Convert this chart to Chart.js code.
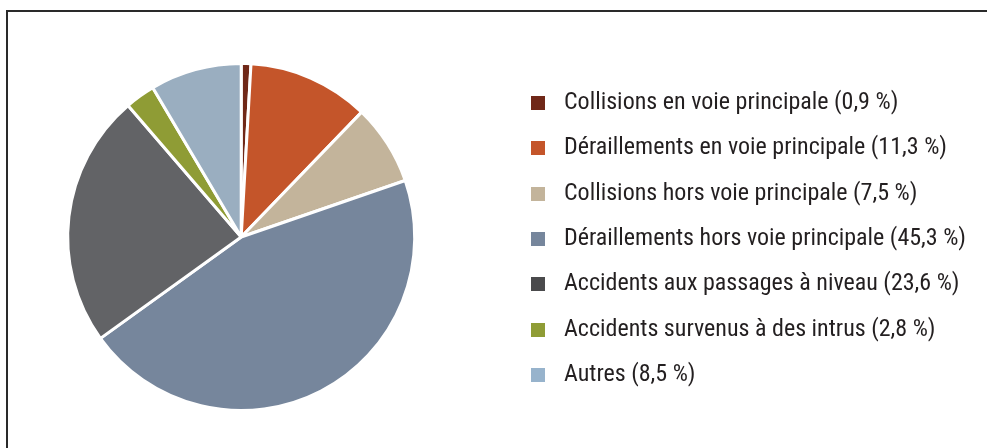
<!DOCTYPE html>
<html><head><meta charset="utf-8">
<script src="https://cdn.jsdelivr.net/npm/chart.js@4.4.1/dist/chart.umd.min.js"></script>
<style>
html,body{margin:0;padding:0;background:#fff;overflow:hidden;width:987px;height:448px;}
#wrap{position:relative;width:987px;height:448px;overflow:hidden;}
#frame{position:absolute;left:6px;top:10px;width:1200px;height:800px;border-left:2px solid #2a2a2a;border-top:2px solid #2a2a2a;}
canvas{position:absolute;top:0;}
</style></head><body>
<div id="wrap"><div id="frame"></div><canvas id="c"></canvas></div>
<script>
// ---- data ----
const categories = [
  "Collisions en voie principale",
  "Déraillements en voie principale",
  "Collisions hors voie principale",
  "Déraillements hors voie principale",
  "Accidents aux passages à niveau",
  "Accidents survenus à des intrus",
  "Autres"
];
const shares = [0.9, 11.3, 7.5, 45.3, 23.6, 2.8, 8.5];
const sliceColors = ["#702818", "#C4552A", "#C3B49B", "#76869C", "#626366", "#8F9C35", "#9AAEC0"];
const legendColors = ["#702818", "#C4552A", "#C3B49B", "#76869C", "#4A4A4C", "#8F9C35", "#97B3CC"];
const legendLabels = categories.map((c, i) => c + " (" + String(shares[i]).replace(".", ",") + " %)");

// ---- font choice ----
function tw(font, s) { const x = document.createElement("canvas").getContext("2d"); x.font = font; return x.measureText(s).width; }
function has(f) { const s = "abcdefghijklmnopqrstuvwxyzABCDEFGHIJ0123456789 (%)"; return tw('40px "' + f + '", monospace', s) === tw('40px "' + f + '", serif', s); }
const cands = ["Roboto Condensed", "Liberation Sans Narrow", "DejaVu Sans Condensed", "Liberation Sans"];
const fam = cands.find(has) || "Liberation Sans";
const FAMILY = '"' + fam + '", "DejaVu Sans Condensed", sans-serif';
const maxAt = s => Math.max(...legendLabels.map(t => tw(s + "px " + FAMILY, t)));
let FS = 22 * 405 / maxAt(22);
FS = Math.round(Math.max(18, Math.min(24, FS)) * 10) / 10;
const maxText = maxAt(FS);

// ---- layout numbers ----
const SPACING = 45.4;               // legend row pitch
const PAD = SPACING - FS;           // legend labels padding
const SW = 21;                      // swatch slot width
const BOX_X = 531;                  // page x of legend squares
const PIE_CX = 241.2;               // page x of pie centre
const need = BOX_X - PAD - 2 * PIE_CX;
const OFF = Math.max(0, Math.ceil(need));
const padLeft = OFF - need;
const W = 987 + OFF;
const padRight = 987 - 10 - BOX_X - (SW + FS / 2) - maxText;
const padTop = 40, padBottom = 14;
let titleH = 2 * 102.7 - (padTop - padBottom + 448) + 6 * SPACING;
if (titleH < 0.5) titleH = 0;

const cv = document.getElementById("c");
cv.width = W; cv.height = 448;
cv.style.left = (-OFF) + "px";

// ---- swatches ----
const swatches = legendColors.map(col => {
  const s = document.createElement("canvas");
  s.width = SW; s.height = 14;
  const g = s.getContext("2d");
  g.fillStyle = col; g.fillRect(0, 0, 14, 14);
  return s;
});

new Chart(cv, {
  type: "pie",
  data: {
    labels: legendLabels,
    datasets: [{
      data: shares,
      backgroundColor: sliceColors,
      borderColor: "#ffffff",
      borderWidth: 3
    }]
  },
  options: {
    responsive: false,
    animation: false,
    events: [],
    radius: 173.5,
    layout: { padding: { left: padLeft, right: Math.max(0, padRight), top: padTop, bottom: padBottom } },
    plugins: {
      tooltip: { enabled: false },
      legend: {
        position: "right",
        align: "center",
        title: { display: titleH > 0, text: "", padding: 0, font: { size: titleH, lineHeight: 1 } },
        labels: {
          usePointStyle: true,
          pointStyleWidth: SW,
          boxHeight: 14,
          padding: PAD,
          color: "#231F20",
          font: { family: FAMILY, size: FS },
          generateLabels: () => legendLabels.map((t, i) => ({
            text: t, fillStyle: legendColors[i], strokeStyle: legendColors[i], lineWidth: 0,
            fontColor: "#231F20",
            pointStyle: swatches[i], hidden: false, index: i, datasetIndex: 0
          }))
        }
      }
    }
  }
});
</script>
</body></html>
